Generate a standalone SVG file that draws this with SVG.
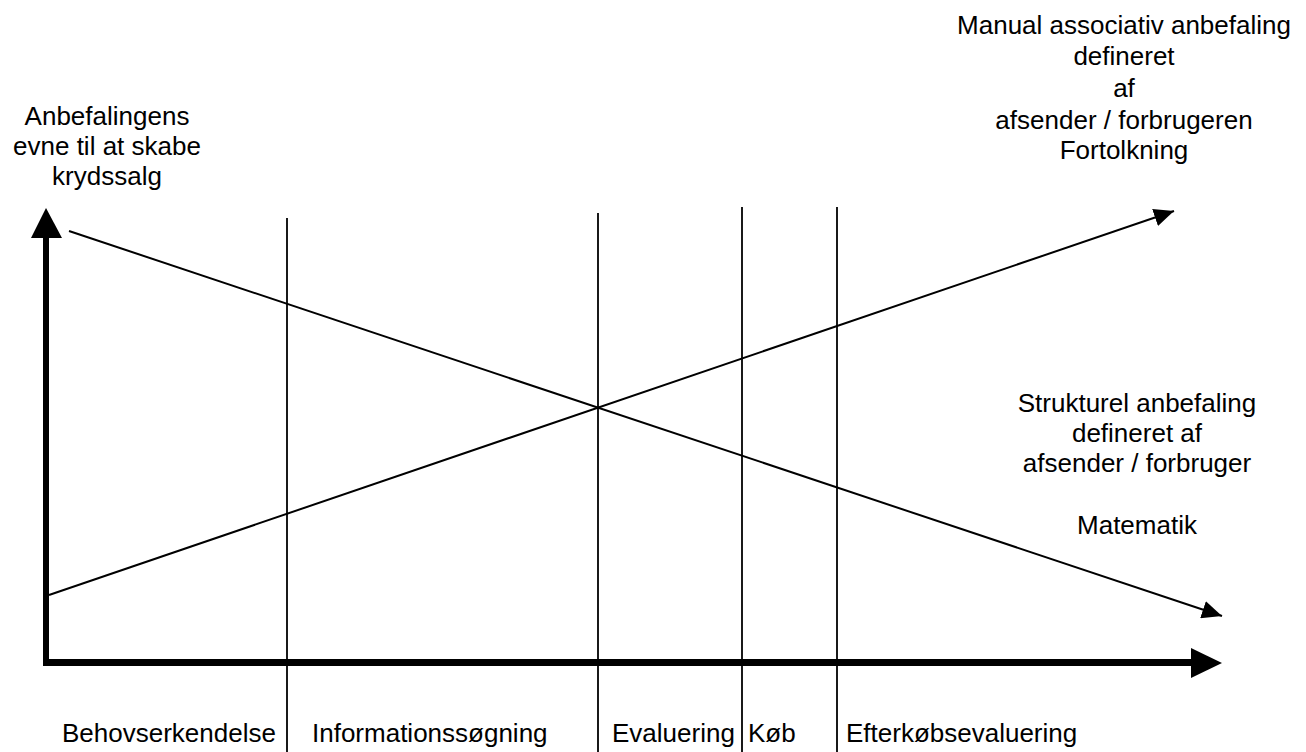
<svg xmlns="http://www.w3.org/2000/svg" width="1306" height="752" viewBox="0 0 1306 752">
<style>
  text { font-family: "Liberation Sans", Arial, sans-serif; font-size: 26px; fill: #000; }
  .c { text-anchor: middle; }
  .thin { stroke: #000; stroke-width: 2; fill: none; }
  .axis { stroke: #000; fill: none; }
  .div { stroke: #000; stroke-width: 1.8; }
</style>
<defs>
  <marker id="ah" viewBox="0 0 20 18" refX="20" refY="9" markerWidth="20" markerHeight="18" markerUnits="userSpaceOnUse" orient="auto">
    <path d="M0,0 L20,9 L0,18 Z" fill="#000"/>
  </marker>
</defs>
<g id="axes">
  <line class="axis" x1="46" y1="666" x2="46" y2="236" stroke-width="6"/>
  <polygon points="46,208 31,238 62,238" fill="#000"/>
  <line class="axis" x1="43" y1="662.5" x2="1193" y2="662.5" stroke-width="7"/>
  <polygon points="1222,663 1191,648 1191,678" fill="#000"/>
</g>
<g id="dividers">
  <line class="div" x1="287" y1="218" x2="287" y2="752"/>
  <line class="div" x1="598" y1="213" x2="598" y2="752"/>
  <line class="div" x1="742" y1="207" x2="742" y2="752"/>
  <line class="div" x1="837" y1="207" x2="837" y2="752"/>
</g>
<g id="connectors">
  <line class="thin" x1="69" y1="231" x2="1222" y2="616" marker-end="url(#ah)"/>
  <line class="thin" x1="49" y1="595" x2="1174" y2="211" marker-end="url(#ah)"/>
</g>
<g id="label-y">
  <text class="c" x="107" y="125">Anbefalingens</text>
  <text class="c" x="107" y="155">evne til at skabe</text>
  <text class="c" x="107" y="185">krydssalg</text>
</g>
<g id="label-manual">
  <text class="c" x="1124" y="34">Manual associativ anbefaling</text>
  <text class="c" x="1124" y="65">defineret</text>
  <text class="c" x="1124" y="97">af</text>
  <text class="c" x="1124" y="129">afsender / forbrugeren</text>
  <text class="c" x="1124" y="159">Fortolkning</text>
</g>
<g id="label-struktur">
  <text class="c" x="1137" y="412">Strukturel anbefaling</text>
  <text class="c" x="1137" y="442">defineret af</text>
  <text class="c" x="1137" y="472">afsender / forbruger</text>
  <text class="c" x="1137" y="534">Matematik</text>
</g>
<g id="phases">
  <text x="62" y="742">Behovserkendelse</text>
  <text x="312" y="742">Informationssøgning</text>
  <text x="612" y="742">Evaluering</text>
  <text x="748" y="742">Køb</text>
  <text x="846" y="742">Efterkøbsevaluering</text>
</g>
</svg>
